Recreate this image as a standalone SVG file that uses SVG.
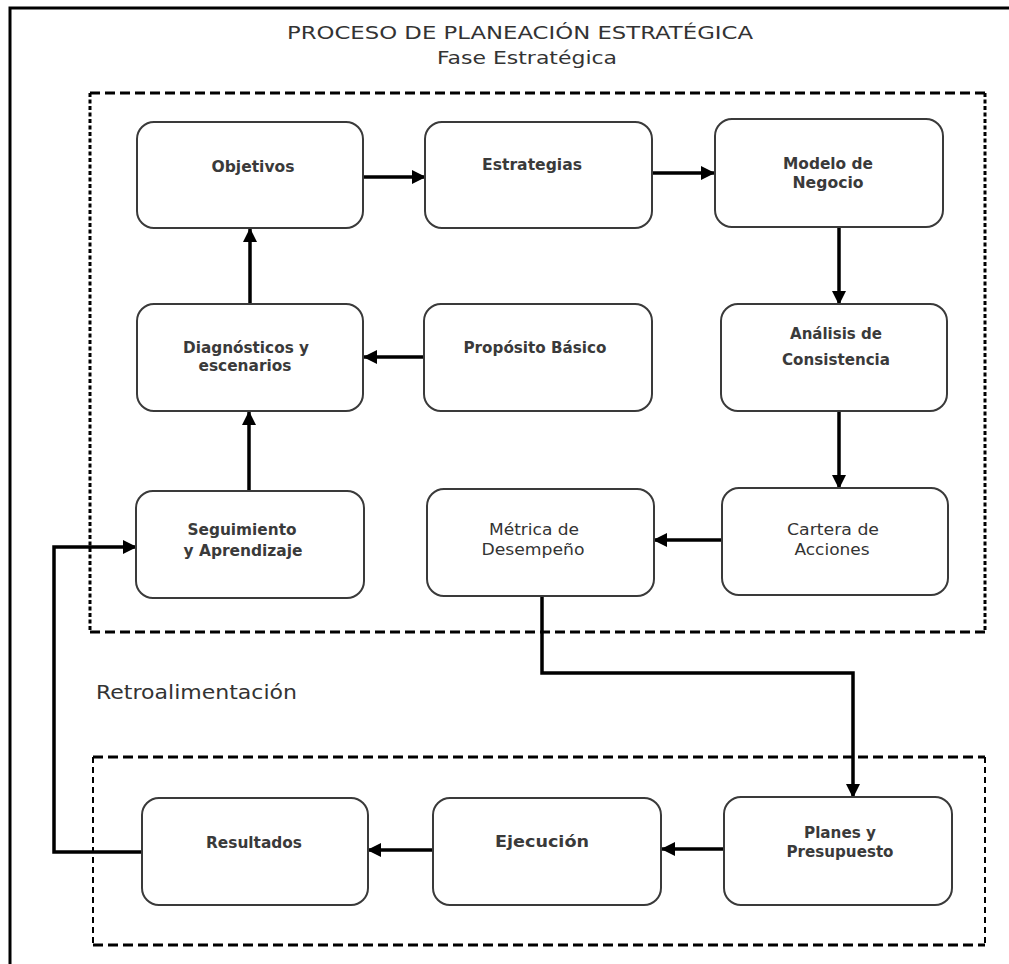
<svg xmlns="http://www.w3.org/2000/svg" width="1009" height="964" viewBox="0 0 1009 964">
<defs>
<marker id="ah" markerUnits="userSpaceOnUse" markerWidth="14" markerHeight="14" refX="13" refY="7" orient="auto">
<path d="M0,0 L14,7 L0,14 z" fill="#000"/>
</marker>
<style>
.box{fill:#fff;stroke:#3a3a3a;stroke-width:2}
.t{font-family:"DejaVu Sans","Liberation Sans",sans-serif;font-size:15px;font-weight:bold;fill:#3a3a3a;text-anchor:middle}
.r{font-family:"DejaVu Sans","Liberation Sans",sans-serif;font-size:16px;fill:#333;text-anchor:middle}
.c{fill:none;stroke:#000;stroke-width:3.5}
.dh{fill:none;stroke:#000;stroke-width:3;stroke-dasharray:10 5}
.dv{fill:none;stroke:#000;stroke-width:3;stroke-dasharray:4 2.5}
.hd{font-family:"DejaVu Sans","Liberation Sans",sans-serif;font-size:18px;fill:#333}
</style>
</defs>
<rect width="1009" height="964" fill="#fff"/>
<path d="M10,964 V8 H1009" fill="none" stroke="#000" stroke-width="3"/>
<text class="hd" x="287" y="39" textLength="466" lengthAdjust="spacingAndGlyphs">PROCESO DE PLANEACIÓN ESTRATÉGICA</text>
<text class="hd" x="437" y="64" textLength="180" lengthAdjust="spacingAndGlyphs">Fase Estratégica</text>
<text class="hd" x="96" y="699" style="font-size:20px" textLength="201" lengthAdjust="spacingAndGlyphs">Retroalimentación</text>
<g id="fase-estrategica">
<line class="dh" x1="90" y1="93" x2="985" y2="93"/>
<line class="dh" x1="90" y1="632" x2="985" y2="632"/>
<line class="dv" x1="90" y1="93" x2="90" y2="632"/>
<line class="dv" x1="985" y1="93" x2="985" y2="632"/>
</g>
<g id="fase-operativa">
<line class="dh" x1="93" y1="757" x2="985" y2="757"/>
<line class="dh" x1="93" y1="945" x2="985" y2="945"/>
<line class="dv" x1="93" y1="757" x2="93" y2="945" style="stroke-width:2;stroke-dasharray:6 4"/>
<line class="dv" x1="985" y1="757" x2="985" y2="945" style="stroke-width:2;stroke-dasharray:6 4"/>
</g>
<g id="connectors">
<line class="c" x1="363" y1="177" x2="425" y2="177" marker-end="url(#ah)"/>
<line class="c" x1="652" y1="173" x2="714" y2="173" marker-end="url(#ah)"/>
<line class="c" x1="839" y1="227" x2="839" y2="304" marker-end="url(#ah)"/>
<line class="c" x1="839" y1="411" x2="839" y2="488" marker-end="url(#ah)"/>
<line class="c" x1="722" y1="540" x2="654" y2="540" marker-end="url(#ah)"/>
<line class="c" x1="424" y1="357" x2="364" y2="357" marker-end="url(#ah)"/>
<line class="c" x1="250" y1="304" x2="250" y2="229" marker-end="url(#ah)"/>
<line class="c" x1="249" y1="491" x2="249" y2="412" marker-end="url(#ah)"/>
<polyline class="c" points="542,596 542,673 853,673 853,797" marker-end="url(#ah)"/>
<line class="c" x1="724" y1="849" x2="662" y2="849" marker-end="url(#ah)"/>
<line class="c" x1="433" y1="850" x2="368" y2="850" marker-end="url(#ah)"/>
<polyline class="c" points="142,852 54,852 54,547 136,547" marker-end="url(#ah)"/>
</g>
<g id="objetivos"><rect class="box" x="137" y="122" width="226" height="106" rx="17"/><text class="t" x="253" y="172" textLength="83" lengthAdjust="spacingAndGlyphs">Objetivos</text></g>
<g id="estrategias"><rect class="box" x="425" y="122" width="227" height="106" rx="17"/><text class="t" x="532" y="170" textLength="100" lengthAdjust="spacingAndGlyphs">Estrategias</text></g>
<g id="modelo"><rect class="box" x="715" y="119" width="228" height="108" rx="17"/><text class="t" x="828" y="169" textLength="90" lengthAdjust="spacingAndGlyphs">Modelo de</text><text class="t" x="828" y="188" textLength="71" lengthAdjust="spacingAndGlyphs">Negocio</text></g>
<g id="diagnosticos"><rect class="box" x="137" y="304" width="226" height="107" rx="17"/><text class="t" x="246" y="353" textLength="126" lengthAdjust="spacingAndGlyphs">Diagnósticos y</text><text class="t" x="245" y="371" textLength="93" lengthAdjust="spacingAndGlyphs">escenarios</text></g>
<g id="proposito"><rect class="box" x="424" y="304" width="228" height="107" rx="17"/><text class="t" x="535" y="353" textLength="143" lengthAdjust="spacingAndGlyphs">Propósito Básico</text></g>
<g id="analisis"><rect class="box" x="721" y="304" width="226" height="107" rx="17"/><text class="t" x="836" y="339" textLength="92" lengthAdjust="spacingAndGlyphs">Análisis de</text><text class="t" x="836" y="365" textLength="108" lengthAdjust="spacingAndGlyphs">Consistencia</text></g>
<g id="seguimiento"><rect class="box" x="136" y="491" width="228" height="107" rx="17"/><text class="t" x="242" y="535" textLength="109" lengthAdjust="spacingAndGlyphs">Seguimiento</text><text class="t" x="243" y="556" textLength="119" lengthAdjust="spacingAndGlyphs">y Aprendizaje</text></g>
<g id="metrica"><rect class="box" x="427" y="489" width="227" height="107" rx="17"/><text class="r" x="534" y="535" textLength="90" lengthAdjust="spacingAndGlyphs">Métrica de</text><text class="r" x="533" y="555" textLength="103" lengthAdjust="spacingAndGlyphs">Desempeño</text></g>
<g id="cartera"><rect class="box" x="722" y="488" width="226" height="107" rx="17"/><text class="r" x="833" y="535" textLength="92" lengthAdjust="spacingAndGlyphs">Cartera de</text><text class="r" x="832" y="555" textLength="75" lengthAdjust="spacingAndGlyphs">Acciones</text></g>
<g id="resultados"><rect class="box" x="142" y="798" width="226" height="107" rx="17"/><text class="t" x="254" y="848" textLength="96" lengthAdjust="spacingAndGlyphs">Resultados</text></g>
<g id="ejecucion"><rect class="box" x="433" y="798" width="228" height="107" rx="17"/><text class="t" x="542" y="847" textLength="94" lengthAdjust="spacingAndGlyphs">Ejecución</text></g>
<g id="planes"><rect class="box" x="724" y="797" width="228" height="108" rx="17"/><text class="t" x="840" y="838" textLength="72" lengthAdjust="spacingAndGlyphs">Planes y</text><text class="t" x="840" y="857" textLength="107" lengthAdjust="spacingAndGlyphs">Presupuesto</text></g>
</svg>
